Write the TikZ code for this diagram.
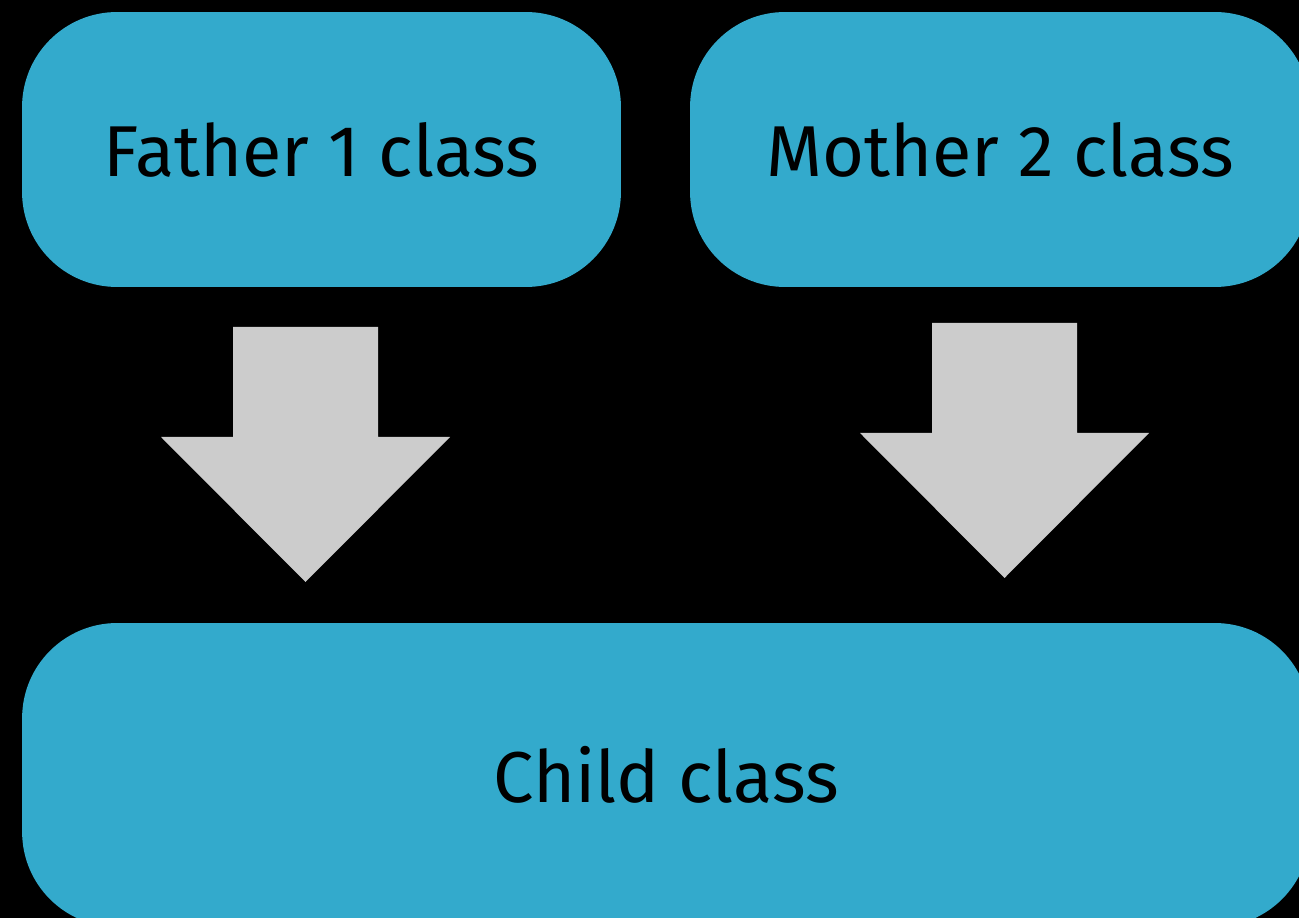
\documentclass[tikz,border=0pt]{standalone}
\usepackage{fontspec}
\setmainfont{Fira Sans}
\usetikzlibrary{positioning}

\definecolor{classblue}{HTML}{33AACC}
\definecolor{arrowgray}{HTML}{CCCCCC}

\tikzset{
	classbox/.style={fill=classblue, rounded corners=1.9cm, inner sep=0pt,
		minimum height=5.5cm, text=black,
		font=\fontsize{41}{49}\selectfont},
}

\begin{document}
\begin{tikzpicture}[x=0.02cm, y=-0.02cm]
		% Background and frame
		\fill[black] (0,0) rectangle (1299,918);
		\useasboundingbox (0,0) rectangle (1299,918);
		\clip (0,0) rectangle (1299,918);

		% Parent classes
		\node[classbox, minimum width=11.98cm] (father) at (321.5,149.5) {Father 1 class};
		\node[classbox, minimum width=12.4cm] (mother) at (1000,149.5) {Mother 2 class};

		% Child class (runs past the right and bottom edges)
		\node[classbox, minimum width=25.76cm, minimum height=6.08cm] (child) at (666,775) {Child class};

		% Block arrows: shaft 145 wide, head 289 wide
		\foreach \xmid/\ytop in {305.5/327, 1004.5/323}{
			\fill[arrowgray] (\xmid-72.5,\ytop) -- ++(145,0) -- ++(0,110)
				-- ++(72,0) -- ++(-144.5,145) -- ++(-144.5,-145) -- ++(72,0) -- cycle;
		}

	\end{tikzpicture}
\end{document}
